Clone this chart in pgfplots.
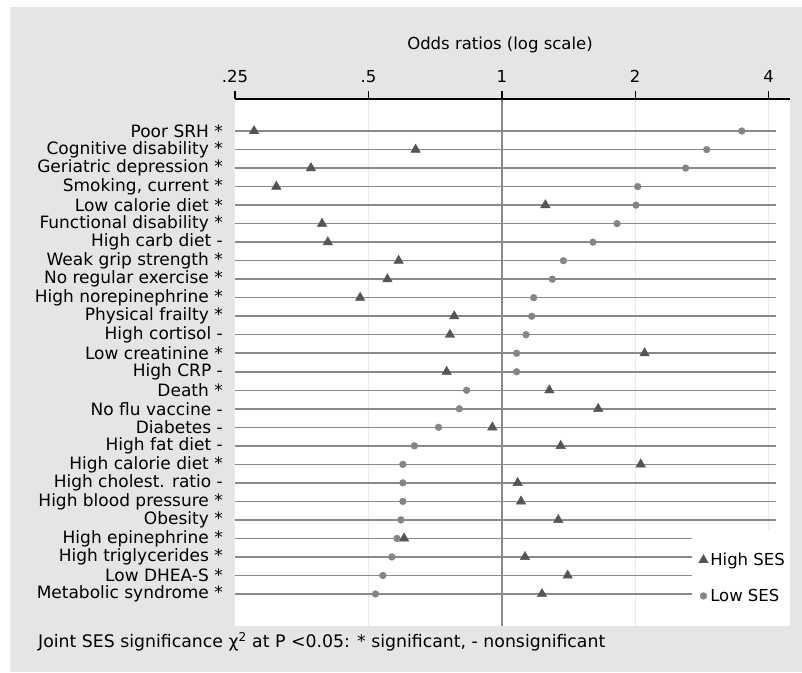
\documentclass[border=0pt]{standalone}
\usepackage{pgfplots}
\pgfplotsset{compat=1.18}
\usepackage{pgfplotstable}
\usepackage{fontspec}
\setmainfont{DejaVu Sans}
\definecolor{bggray}{HTML}{E5E5E5}
\definecolor{gridgray}{HTML}{EAEAEA}
\definecolor{linegray}{HTML}{8A8A8A}
\definecolor{trigray}{HTML}{555555}
\definecolor{dotgray}{HTML}{858585}
\newcommand\lab{\fontsize{16.5}{19}\selectfont}
\newcommand\rowlab{\fontsize{17}{19}\selectfont}

% row (27 - position from top), high SES OR, low SES OR
\pgfplotstableread{
row high  low
26  0.276 3.48
25  0.639 2.90
24  0.371 2.60
23  0.310 2.026
22  1.254 2.008
21  0.393 1.82
20  0.405 1.606
19  0.585 1.377
18  0.552 1.30
17  0.479 1.18
16  0.781 1.168
15  0.764 1.134
14  2.10  1.08
13  0.751 1.08
12  1.28  0.833
11  1.65  0.802
10  0.952 0.720
9   1.358 0.635
8   2.058 0.598
7   1.086 0.598
6   1.105 0.598
5   1.341 0.592
4   0.602 0.580
3   1.128 0.565
2   1.408 0.539
1   1.232 0.519
}\ortable

\begin{document}
\begin{tikzpicture}[x=1pt,y=1pt]
\fill[white] (0,0) rectangle (802,-672);
\fill[bggray] (10,-7) rectangle (802,-672);
\begin{axis}[
  at={(235pt,-99pt)}, anchor=north west,
  width=555pt, height=527pt, scale only axis,
  xmode=log, log basis x=2,
  xmin=0.25, xmax=4.47, ymin=-0.73, ymax=27.73,
  axis background/.style={fill=white},
  axis line style={draw=none},
  xtick pos=right, xticklabel pos=right,
  ytick pos=left, yticklabel pos=left,
  xtick={0.25,0.5,1,2,4},
  xticklabels={.25,.5,1,2,4},
  tick align=outside,
  major tick length=8pt,
  xtick style={black, line width=1.4pt},
  xticklabel style={font=\lab, inner sep=2pt, yshift=6pt},
  xmajorgrids, grid style={gridgray, line width=1pt},
  ytick={1,...,26},
  yticklabels={Metabolic syndrome *, Low DHEA-S *, High triglycerides *,
    High epinephrine *, Obesity *, High blood pressure *, High cholest. ratio -,
    High calorie diet *, High fat diet -, Diabetes -, No flu vaccine -, Death *,
    High CRP -, Low creatinine *, High cortisol -, Physical frailty *,
    High norepinephrine *, No regular exercise *, Weak grip strength *,
    High carb diet -, Functional disability *, Low calorie diet *,
    {Smoking, current *}, Geriatric depression *, Cognitive disability *, Poor SRH *},
  ytick style={draw=none},
  yticklabel style={font=\rowlab, inner sep=0pt, xshift=-4pt},
  legend style={at={(1,0)}, anchor=south east, draw=none, fill=white,
    font=\lab, inner xsep=3pt, inner ysep=21pt, row sep=18pt,
    legend cell align=left,
    /tikz/every even column/.append style={column sep=2pt}},
  legend image code/.code={\draw[#1] plot coordinates {(0.2cm,0cm)};},
  clip=false,
]
\pgfplotsinvokeforeach{5,...,26}{
  \addplot[linegray, line width=1.5pt, forget plot] coordinates {(0.25,#1) (4.157,#1)};
}
\pgfplotsinvokeforeach{1,...,4}{
  \addplot[linegray, line width=1.5pt, forget plot] coordinates {(0.25,#1) (2.687,#1)};
}
\addplot[linegray, line width=2pt, forget plot] coordinates {(1,-0.73) (1,27.73)};
\addplot[only marks, mark=triangle*, mark size=5.5pt, color=trigray] table[x=high, y=row] {\ortable};
\addlegendentry{High SES}
\addplot[only marks, mark=*, mark size=3.4pt, color=dotgray] table[x=low, y=row] {\ortable};
\addlegendentry{Low SES}
\draw[black, line width=1.6pt] (rel axis cs:0,1) -- (rel axis cs:1,1);
\end{axis}
\node[font=\lab] at (500,-45) {Odds ratios (log scale)};
\node[font=\fontsize{17.3}{20}\selectfont, anchor=west, inner sep=0pt] at (38,-642) {Joint SES significance χ\textsuperscript{2} at P <0.05: * significant, - nonsignificant};
\end{tikzpicture}
\end{document}
